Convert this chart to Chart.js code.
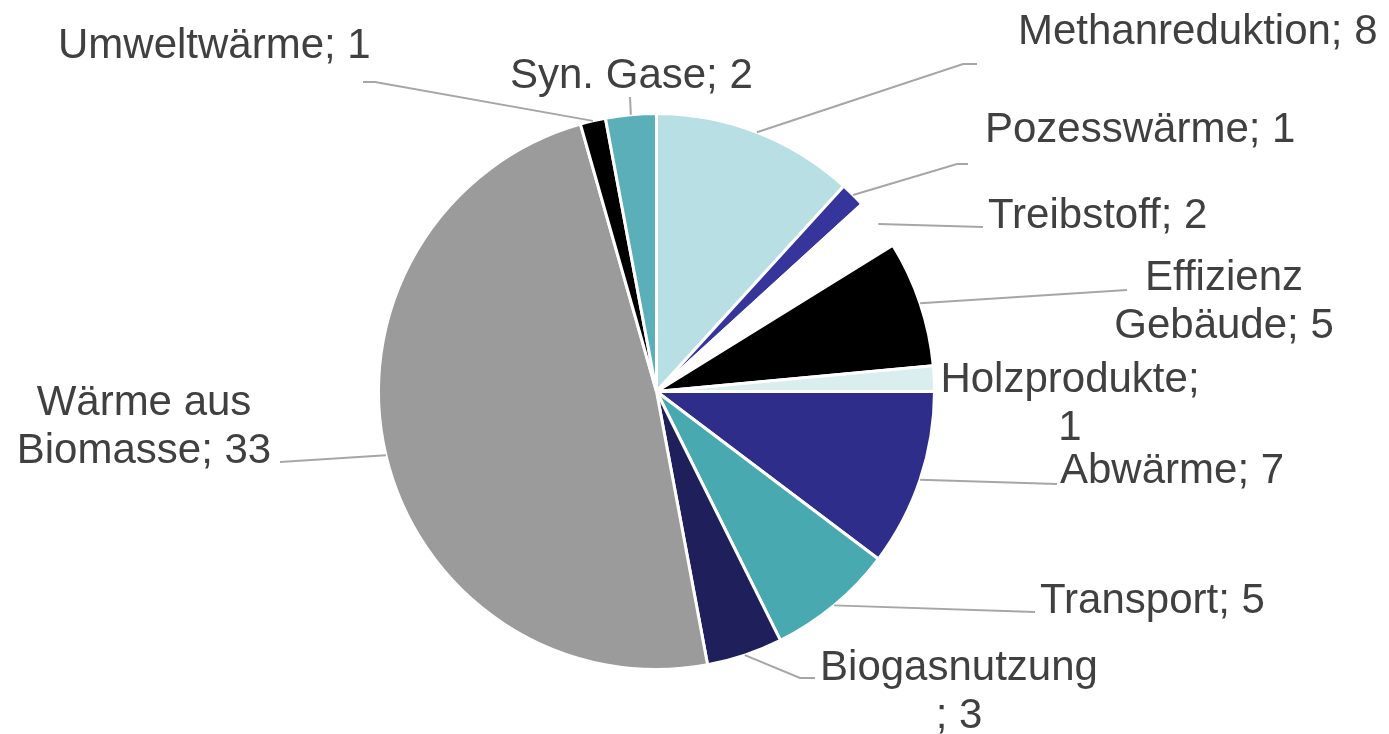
<!DOCTYPE html>
<html lang="de">
<head>
    <meta charset="UTF-8">
    <title>Kreisdiagramm</title>
    <script src="https://cdn.jsdelivr.net/npm/chart.js@4"></script>
    <style>
        html, body {
            margin: 0;
            padding: 0;
            background: #ffffff;
        }
        #wrap {
            width: 1389px;
            height: 734px;
        }
    </style>
</head>
<body>
    <div id="wrap"><canvas id="kreis"></canvas></div>

    <script>
        // Daten
        const kategorien = ['Methanreduktion', 'Pozesswärme', 'Treibstoff', 'Effizienz Gebäude', 'Holzprodukte',
            'Abwärme', 'Transport', 'Biogasnutzung', 'Wärme aus Biomasse', 'Umweltwärme', 'Syn. Gase'];
        const werte = [8, 1, 2, 5, 1, 7, 5, 3, 33, 1, 2];
        const farben = ['#b8dfe3', '#35359c', '#ffffff', '#000000', '#daeef0',
            '#2e2e8a', '#48aab0', '#1f1f5c', '#9b9b9b', '#000000', '#5aafb8'];

        // Lage der Beschriftungen (Text + Ende der Führungslinie)
        const beschriftung = [
            { x: 1018, y: 44, align: 'left', pts: [[963, 64], [977, 64]] },
            { x: 985, y: 142, align: 'left', pts: [[957, 164], [968, 164]] },
            { x: 988, y: 228, align: 'left', pts: [[983, 227]] },
            { x: 1224, y: 290, align: 'center', brk: 10, pts: [[1127, 290]] },
            { x: 1070, y: 392, align: 'center', brk: 13, pts: null },
            { x: 1060, y: 483, align: 'left', pts: [[1057, 484]] },
            { x: 1040, y: 613, align: 'left', pts: [[1035, 612]] },
            { x: 959, y: 680, align: 'center', brk: 13, pts: [[800, 678], [815, 678]] },
            { x: 144, y: 415, align: 'center', brk: 10, pts: [[280, 462]] },
            { x: 58, y: 58, align: 'left', pts: [[375, 82], [363, 82]] },
            { x: 510, y: 88, align: 'left', pts: [[630, 97]] }
        ];

        const schrift = '42px "Liberation Sans", Arial, sans-serif';
        const zeilenHoehe = 48;

        const labelPlugin = {
            id: 'labelPlugin',
            afterDatasetsDraw(chart) {
                const ctx = chart.ctx;
                const arcs = chart.getDatasetMeta(0).data;
                ctx.save();
                arcs.forEach((arc, i) => {
                    const b = beschriftung[i];
                    const p = arc.getProps(['x', 'y', 'startAngle', 'endAngle', 'outerRadius'], true);
                    const mitte = (p.startAngle + p.endAngle) / 2;

                    // Führungslinie
                    if (b.pts) {
                        ctx.beginPath();
                        ctx.strokeStyle = '#a6a6a6';
                        ctx.lineWidth = 2;
                        ctx.moveTo(p.x + Math.cos(mitte) * p.outerRadius, p.y + Math.sin(mitte) * p.outerRadius);
                        b.pts.forEach(pt => ctx.lineTo(pt[0], pt[1]));
                        ctx.stroke();
                    }

                    // Text
                    const text = kategorien[i] + '; ' + werte[i];
                    let zeilen = [text];
                    if (b.brk) {
                        zeilen = [text.slice(0, b.brk).trim(), text.slice(b.brk).trim()];
                    }
                    ctx.font = schrift;
                    ctx.fillStyle = '#404040';
                    ctx.textAlign = b.align;
                    ctx.textBaseline = 'alphabetic';
                    zeilen.forEach((z, k) => ctx.fillText(z, b.x, b.y + k * zeilenHoehe));
                });
                ctx.restore();
            }
        };

        new Chart(document.getElementById('kreis'), {
            type: 'pie',
            data: {
                labels: kategorien,
                datasets: [{
                    data: werte,
                    backgroundColor: farben,
                    borderColor: '#ffffff',
                    borderWidth: 3,
                    hoverOffset: 0
                }]
            },
            options: {
                responsive: true,
                maintainAspectRatio: false,
                animation: false,
                layout: {
                    padding: { left: 377, top: 112, right: 453, bottom: 63 }
                },
                plugins: {
                    legend: { display: false },
                    tooltip: { enabled: false }
                }
            },
            plugins: [labelPlugin]
        });
    </script>
</body>
</html>
